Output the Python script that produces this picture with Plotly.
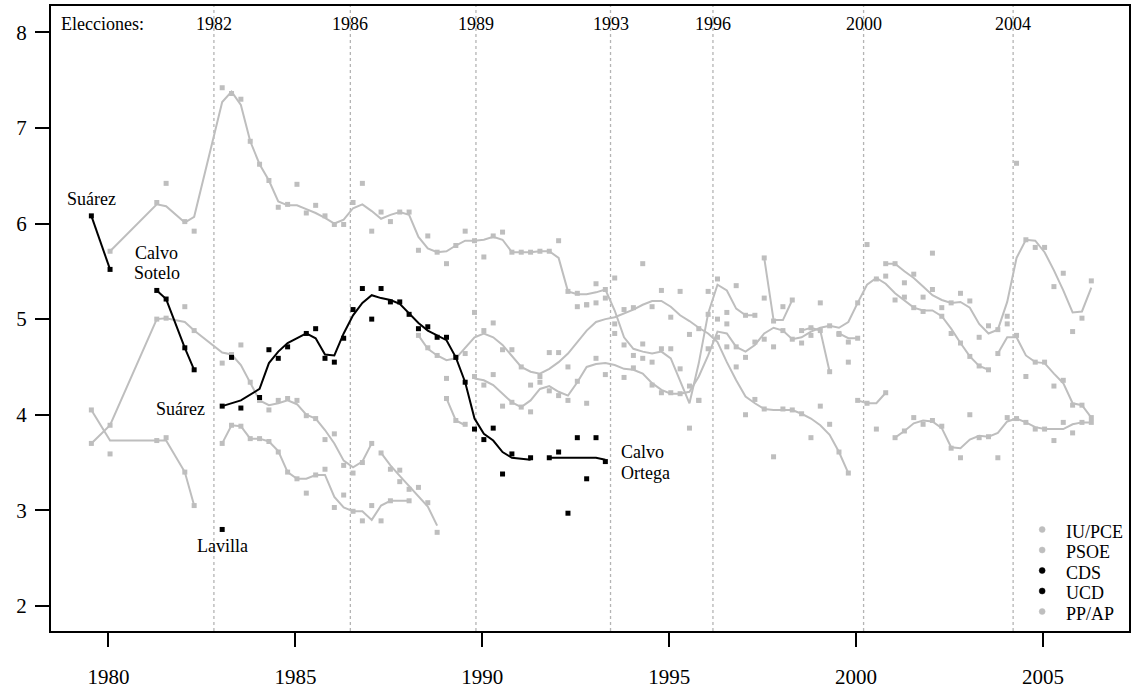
import plotly.graph_objects as go

GRAY = "#bebebe"
BLACK = "#000000"
FONT = "Liberation Serif"

# ---------------- data (quarterly survey dates, leader ratings) ----------------
# UCD
ucd_suarez_dates = ["1979-07", "1980-01"]
ucd_suarez_raw = [6.08, 5.52]
ucd_suarez_fit = [6.08, 5.52]

ucd_calvosotelo_dates = ["1981-04", "1981-07", "1982-01", "1982-04"]
ucd_calvosotelo_raw = [5.30, 5.21, 4.70, 4.47]
ucd_calvosotelo_fit = [5.30, 5.21, 4.70, 4.47]

ucd_lavilla_dates = ["1983-01"]
ucd_lavilla_raw = [2.80]
ucd_lavilla_fit = [None]

# CDS
cds_suarez_dates = ["1983-01", "1983-04", "1983-07", "1984-01", "1984-04", "1984-07", "1984-10",
                    "1985-04", "1985-07", "1985-10", "1986-01", "1986-04", "1986-07", "1986-10",
                    "1987-01", "1987-04", "1987-07", "1987-10", "1988-01", "1988-04", "1988-07",
                    "1988-10", "1989-01", "1989-04", "1989-07", "1989-10", "1990-01", "1990-04",
                    "1990-07", "1990-10", "1991-04"]
cds_suarez_raw = [4.09, 4.60, 4.07, 4.18, 4.68, 4.59, 4.71, 4.85, 4.90, 4.59, 4.55, 4.80, 5.10, 5.32,
                  5.00, 5.32, 5.18, 5.18, 5.05, 4.90, 4.92, 4.81, 4.81, 4.60, 4.34, 3.85, 3.74, 3.86,
                  3.38, 3.59, 3.55]
cds_suarez_fit = [4.09, 4.12, 4.15, 4.27, 4.54, 4.66, 4.75, 4.85, 4.80, 4.63, 4.62, 4.85, 5.04, 5.17,
                  5.25, 5.22, 5.20, 5.16, 5.06, 4.96, 4.88, 4.83, 4.78, 4.60, 4.34, 3.96, 3.80, 3.73,
                  3.61, 3.55, 3.53]

cds_calvoortega_dates = ["1991-10", "1992-01", "1992-04", "1992-07", "1992-10", "1993-01", "1993-04"]
cds_calvoortega_raw = [3.55, 3.61, 2.97, 3.76, 3.33, 3.76, 3.51]
cds_calvoortega_fit = [3.55, 3.55, 3.55, 3.55, 3.55, 3.55, 3.53]

# PSOE
psoe_gonzalez_dates = ["1980-01", "1981-04", "1981-07", "1982-01", "1982-04",
                       "1983-01", "1983-04", "1983-07", "1983-10",
                       "1984-01", "1984-04", "1984-07", "1984-10",
                       "1985-01", "1985-04", "1985-07", "1985-10",
                       "1986-01", "1986-04", "1986-07", "1986-10",
                       "1987-01", "1987-04", "1987-07", "1987-10",
                       "1988-01", "1988-04", "1988-07", "1988-10",
                       "1989-01", "1989-04", "1989-07", "1989-10",
                       "1990-01", "1990-04", "1990-07", "1990-10",
                       "1991-01", "1991-04", "1991-07", "1991-10",
                       "1992-01", "1992-04", "1992-07", "1992-10",
                       "1993-01", "1993-04", "1993-07", "1993-10",
                       "1994-01", "1994-04", "1994-07", "1994-10",
                       "1995-01", "1995-04", "1995-07", "1995-10",
                       "1996-01", "1996-04", "1996-07", "1996-10",
                       "1997-01", "1997-04", "1997-07"]
psoe_gonzalez_raw = [5.71, 6.22, 6.42, 6.02, 5.92,
                     7.42, 7.36, 7.30, 6.86,
                     6.62, 6.45, 6.17, 6.20,
                     6.41, 6.11, 6.19, 6.08,
                     5.99, 5.99, 6.22, 6.42,
                     5.92, 6.12, 6.02, 6.12,
                     6.12, 5.72, 5.87, 5.70,
                     5.58, 5.77, 5.92, 5.82,
                     5.65, 5.87, 5.91, 5.70,
                     5.70, 5.70, 5.71, 5.71,
                     5.82, 5.29, 5.27, 5.15,
                     5.37, 5.31, 5.43, 4.73,
                     4.62, 4.74, 4.55, 4.69,
                     4.69, 4.48, 3.86, 4.15,
                     5.05, 5.42, 5.07, 5.35,
                     5.04, 5.04, 5.22]
psoe_gonzalez_fit = [5.71, 6.20, 6.18, 6.01, 6.07,
                     7.27, 7.38, 7.24, 6.86,
                     6.62, 6.45, 6.23, 6.19,
                     6.19, 6.15, 6.11, 6.06,
                     6.00, 6.04, 6.16, 6.20,
                     6.13, 6.05, 6.09, 6.12,
                     6.09, 5.86, 5.74, 5.70,
                     5.71, 5.77, 5.82, 5.82,
                     5.83, 5.86, 5.83, 5.70,
                     5.70, 5.70, 5.71, 5.71,
                     5.64, 5.29, 5.26, 5.26,
                     5.28, 5.31, 5.09, 4.81,
                     4.69, 4.66, 4.64, 4.66,
                     4.59, 4.36, 4.12, 4.54,
                     5.06, 5.36, 5.30, 5.11,
                     5.04, 5.04, None]

psoe_almunia1_dates = ["1997-07", "1997-10", "1998-01", "1998-04"]
psoe_almunia1_raw = [5.64, 4.98, 5.13, 5.20]
psoe_almunia1_fit = [5.64, 4.99, 4.99, 5.20]

psoe_borrell_dates = ["1998-07", "1998-10", "1999-01", "1999-04"]
psoe_borrell_raw = [4.88, 4.83, 5.17, 4.45]
psoe_borrell_fit = [4.88, 4.91, 4.88, 4.45]

psoe_almunia2_dates = ["1999-07", "1999-10", "2000-01"]
psoe_almunia2_raw = [4.84, 4.76, 4.80]
psoe_almunia2_fit = [4.85, 4.80, 4.80]

psoe_zapatero_dates = ["2000-10", "2001-01", "2001-04", "2001-07", "2001-10",
                       "2002-01", "2002-04", "2002-07", "2002-10",
                       "2003-01", "2003-04", "2003-07", "2003-10",
                       "2004-01", "2004-04", "2004-07", "2004-10",
                       "2005-01", "2005-04", "2005-07", "2005-10",
                       "2006-01", "2006-04"]
psoe_zapatero_raw = [5.58, 5.58, 5.38, 5.47, 5.23,
                     5.69, 5.12, 5.17, 5.27,
                     5.19, 4.81, 4.93, 4.89,
                     5.03, 6.63, 5.83, 5.75,
                     5.75, 5.34, 5.48, 4.87,
                     5.01, 5.40]
psoe_zapatero_fit = [5.58, 5.58, 5.50, 5.43, 5.34,
                     5.25, 5.20, 5.17, 5.18,
                     5.12, 4.95, 4.85, 4.89,
                     5.18, 5.64, 5.83, 5.82,
                     5.70, 5.51, 5.30, 5.07,
                     5.08, 5.33]

# IU/PCE
iu_carrillo_dates = ["1979-07", "1980-01", "1981-04", "1981-07", "1982-01", "1982-04"]
iu_carrillo_raw = [4.05, 3.59, 3.73, 3.76, 3.40, 3.05]
iu_carrillo_fit = [4.05, 3.73, 3.73, 3.73, 3.40, 3.05]

iu_iglesias_dates = ["1983-01", "1983-04", "1983-07", "1983-10",
                     "1984-01", "1984-04", "1984-07", "1984-10",
                     "1985-01", "1985-04", "1985-07", "1985-10",
                     "1986-01", "1986-04", "1986-07", "1986-10",
                     "1987-01", "1987-04", "1987-07", "1987-10", "1988-01"]
iu_iglesias_raw = [3.70, 3.89, 3.88, 3.75, 3.75, 3.72, 3.61, 3.40, 3.33, 3.18, 3.37, 3.43,
                   3.03, 3.16, 2.99, 2.89, 3.05, 2.89, 3.10, 3.30, 3.10]
iu_iglesias_fit = [3.70, 3.89, 3.88, 3.75, 3.75, 3.72, 3.62, 3.40, 3.33, 3.33, 3.37, 3.37,
                   3.14, 3.03, 2.99, 2.99, 2.90, 3.05, 3.10, 3.10, 3.10]

iu_anguita_dates = ["1988-04", "1988-07", "1988-10",
                    "1989-01", "1989-04", "1989-07", "1989-10",
                    "1990-01", "1990-04", "1990-07", "1990-10",
                    "1991-01", "1991-04", "1991-07", "1991-10",
                    "1992-01", "1992-04", "1992-07", "1992-10",
                    "1993-01", "1993-04", "1993-07", "1993-10",
                    "1994-01", "1994-04", "1994-07", "1994-10",
                    "1995-01", "1995-04", "1995-07", "1995-10",
                    "1996-01", "1996-04", "1996-07", "1996-10",
                    "1997-01", "1997-04", "1997-07", "1997-10",
                    "1998-01", "1998-04", "1998-07", "1998-10",
                    "1999-01", "1999-04", "1999-07", "1999-10"]
iu_anguita_raw = [4.83, 4.70, 4.62,
                  4.38, 4.60, 4.64, 5.07,
                  4.88, 4.96, 4.68, 4.68,
                  4.50, 4.31, 4.34, 4.65,
                  4.65, 4.50, 5.13, 5.15,
                  5.17, 5.22, 4.95, 5.10,
                  5.12, 5.58, 5.13, 5.30,
                  5.02, 5.29, 4.84, 4.90,
                  5.29, 5.00, 4.71, 4.50,
                  4.00, 4.16, 4.06, 3.56,
                  4.06, 4.05, 4.01, 3.76,
                  4.09, 3.90, 3.61, 3.39]
iu_anguita_fit = [4.83, 4.69, 4.62,
                  4.57, 4.59, 4.70, 4.81,
                  4.85, 4.81, 4.73, 4.61,
                  4.50, 4.45, 4.43, 4.48,
                  4.55, 4.64, 4.76, 4.88,
                  4.97, 5.00, 5.02, 5.06,
                  5.10, 5.15, 5.19, 5.19,
                  5.13, 5.04, 4.98, 4.91,
                  4.85, 4.76, 4.55, 4.36,
                  4.19, 4.12, 4.06, 4.05,
                  4.05, 4.05, 4.01, 3.96,
                  3.89, 3.79, 3.61, 3.39]

iu_frutos_dates = ["2000-01", "2000-04", "2000-07", "2000-10"]
iu_frutos_raw = [4.15, 4.12, 3.85, 4.23]
iu_frutos_fit = [4.15, 4.12, 4.12, 4.23]

iu_llamazares_dates = ["2001-01", "2001-04", "2001-07", "2001-10",
                       "2002-01", "2002-04", "2002-07", "2002-10",
                       "2003-01", "2003-04", "2003-07", "2003-10",
                       "2004-01", "2004-04", "2004-07", "2004-10",
                       "2005-01", "2005-04", "2005-07", "2005-10",
                       "2006-01", "2006-04"]
iu_llamazares_raw = [3.76, 3.83, 3.97, 3.90, 3.94, 3.88, 3.65, 3.55, 4.00, 3.76, 3.77, 3.55,
                     3.97, 3.96, 3.92, 3.85, 3.85, 3.73, 3.92, 3.81, 3.92, 3.92]
iu_llamazares_fit = [3.76, 3.83, 3.91, 3.94, 3.93, 3.86, 3.66, 3.65, 3.74, 3.78, 3.77, 3.81,
                     3.93, 3.96, 3.92, 3.87, 3.85, 3.85, 3.85, 3.90, 3.92, 3.92]

# PP/AP
pp_fraga_dates = ["1979-07", "1980-01", "1981-04", "1981-07", "1982-01", "1982-04",
                  "1983-01", "1983-04", "1983-07", "1983-10",
                  "1984-01", "1984-04", "1984-07", "1984-10",
                  "1985-01", "1985-04", "1985-07", "1985-10",
                  "1986-01", "1986-04", "1986-07", "1986-10", "1987-01"]
pp_fraga_raw = [3.70, 3.89, 5.00, 5.01, 5.13, 4.88, 4.54, 4.63, 4.73, 4.34, 4.15, 4.05,
                4.15, 4.17, 4.15, 3.99, 3.96, 3.74, 3.80, 3.47, 3.39, 3.50, 3.70]
pp_fraga_fit = [3.70, 3.89, 5.00, 5.01, 4.97, 4.88, 4.65, 4.63, 4.52, 4.34, 4.15, 4.10,
                4.12, 4.15, 4.11, 4.00, 3.96, 3.84, 3.70, 3.52, 3.45, 3.51, 3.70]

pp_mancha_dates = ["1987-04", "1987-07", "1987-10", "1988-01", "1988-04", "1988-07", "1988-10"]
pp_mancha_raw = [3.60, 3.43, 3.42, 3.22, 3.24, 3.08, 2.77]
pp_mancha_fit = [3.60, 3.47, 3.36, 3.25, 3.14, 3.04, 2.84]

pp_fraga89_dates = ["1989-01", "1989-04", "1989-07"]
pp_fraga89_raw = [4.17, 3.94, 3.90]
pp_fraga89_fit = [4.17, 3.94, 3.89]

pp_aznar_dates = ["1989-10",
                  "1990-01", "1990-04", "1990-07", "1990-10",
                  "1991-01", "1991-04", "1991-07", "1991-10",
                  "1992-01", "1992-04", "1992-07", "1992-10",
                  "1993-01", "1993-04", "1993-07", "1993-10",
                  "1994-01", "1994-04", "1994-07", "1994-10",
                  "1995-01", "1995-04", "1995-07", "1995-10",
                  "1996-01", "1996-04", "1996-07", "1996-10",
                  "1997-01", "1997-04", "1997-07", "1997-10",
                  "1998-01", "1998-04", "1998-07", "1998-10",
                  "1999-01", "1999-04", "1999-07", "1999-10",
                  "2000-01", "2000-04", "2000-07", "2000-10",
                  "2001-01", "2001-04", "2001-07", "2001-10",
                  "2002-01", "2002-04", "2002-07", "2002-10",
                  "2003-01", "2003-04", "2003-07"]
pp_aznar_raw = [4.40,
                4.31, 4.42, 4.09, 4.13,
                4.08, 4.03, 4.40, 4.25,
                4.20, 4.15, 4.35, 4.12,
                4.59, 4.42, 4.85, 4.39,
                4.49, 4.59, 4.31, 4.23,
                4.23, 4.22, 4.30, 4.15,
                4.69, 4.81, 4.95, 4.71,
                4.60, 4.76, 4.79, 4.71,
                4.88, 4.79, 4.75, 4.91,
                4.88, 4.93, 4.85, 4.55,
                5.17, 5.78, 5.42, 5.45,
                5.20, 5.23, 5.12, 5.08,
                5.31, 5.03, 4.85, 4.75,
                4.61, 4.51, 4.47]
pp_aznar_fit = [4.38,
                4.36, 4.31, 4.22, 4.13,
                4.08, 4.15, 4.27, 4.30,
                4.24, 4.20, 4.34, 4.50,
                4.53, 4.54, 4.52, 4.48,
                4.47, 4.43, 4.33, 4.26,
                4.22, 4.22, 4.24, 4.40,
                4.62, 4.87, 4.85, 4.71,
                4.66, 4.73, 4.85, 4.91,
                4.88, 4.79, 4.81, 4.87,
                4.91, 4.93, 4.91, 4.97,
                5.17, 5.36, 5.43, 5.37,
                5.27, 5.19, 5.12, 5.09,
                5.09, 5.03, 4.90, 4.75,
                4.61, 4.51, 4.47]

pp_rajoy_dates = ["2003-10", "2004-01", "2004-04", "2004-07", "2004-10",
                  "2005-01", "2005-04", "2005-07", "2005-10", "2006-01", "2006-04"]
pp_rajoy_raw = [4.64, 4.95, 4.83, 4.40, 4.55, 4.55, 4.30, 4.36, 4.10, 4.10, 3.97]
pp_rajoy_fit = [4.64, 4.81, 4.81, 4.62, 4.55, 4.54, 4.43, 4.33, 4.12, 4.10, 3.97]

# elections
election_labels = ["1982", "1986", "1989", "1993", "1996", "2000", "2004"]
election_dates = [1982.82, 1986.47, 1989.83, 1993.43, 1996.17, 2000.20, 2004.20]

# legend
legend_labels = ["IU/PCE", "PSOE", "CDS", "UCD", "PP/AP"]
legend_colors = [GRAY, GRAY, BLACK, BLACK, GRAY]

x_ticks = [1980, 1985, 1990, 1995, 2000, 2005]
y_ticks = [2, 3, 4, 5, 6, 7, 8]

# ---------------- build ----------------
def yr(s):
    y, m = s.split("-")
    return int(y) + (int(m) - 0.5) / 12.0

gray_segments = [
    (iu_carrillo_dates, iu_carrillo_raw, iu_carrillo_fit),
    (iu_iglesias_dates, iu_iglesias_raw, iu_iglesias_fit),
    (iu_anguita_dates, iu_anguita_raw, iu_anguita_fit),
    (iu_frutos_dates, iu_frutos_raw, iu_frutos_fit),
    (iu_llamazares_dates, iu_llamazares_raw, iu_llamazares_fit),
    (psoe_gonzalez_dates, psoe_gonzalez_raw, psoe_gonzalez_fit),
    (psoe_almunia1_dates, psoe_almunia1_raw, psoe_almunia1_fit),
    (psoe_borrell_dates, psoe_borrell_raw, psoe_borrell_fit),
    (psoe_almunia2_dates, psoe_almunia2_raw, psoe_almunia2_fit),
    (psoe_zapatero_dates, psoe_zapatero_raw, psoe_zapatero_fit),
    (pp_fraga_dates, pp_fraga_raw, pp_fraga_fit),
    (pp_mancha_dates, pp_mancha_raw, pp_mancha_fit),
    (pp_fraga89_dates, pp_fraga89_raw, pp_fraga89_fit),
    (pp_aznar_dates, pp_aznar_raw, pp_aznar_fit),
    (pp_rajoy_dates, pp_rajoy_raw, pp_rajoy_fit),
]
black_segments = [
    (ucd_suarez_dates, ucd_suarez_raw, ucd_suarez_fit),
    (ucd_calvosotelo_dates, ucd_calvosotelo_raw, ucd_calvosotelo_fit),
    (ucd_lavilla_dates, ucd_lavilla_raw, ucd_lavilla_fit),
    (cds_suarez_dates, cds_suarez_raw, cds_suarez_fit),
    (cds_calvoortega_dates, cds_calvoortega_raw, cds_calvoortega_fit),
]

fig = go.Figure()

def add_segment(dates, raw, fit, color):
    xs = [yr(d) for d in dates]
    if any(v is not None for v in fit):
        fig.add_trace(go.Scatter(x=xs, y=fit, mode="lines", connectgaps=False,
                                 line=dict(color=color, width=2), hoverinfo="skip",
                                 showlegend=False))
    fig.add_trace(go.Scatter(x=xs, y=raw, mode="markers",
                             marker=dict(symbol="square", size=5, color=color,
                                         line=dict(width=0)),
                             hoverinfo="skip", showlegend=False))

for seg in gray_segments:
    add_segment(*seg, GRAY)
for seg in black_segments:
    add_segment(*seg, BLACK)

W, H = 1132, 692
ML, MR, MT, MB = 51, 1, 6, 61
PW, PH = W - ML - MR, H - MT - MB

def px2paper(px, py):
    return (px - ML) / PW, (H - MB - py) / PH

shapes = []
for d in election_dates:
    shapes.append(dict(type="line", xref="x", yref="paper", x0=d, x1=d, y0=0, y1=1,
                       line=dict(color="#b4b4b4", width=1.3, dash="dot"), layer="below"))

annotations = []
for lab, d in zip(election_labels, election_dates):
    annotations.append(dict(x=d, y=8.087, xref="x", yref="y", text=lab, showarrow=False,
                            xanchor="center", yanchor="middle",
                            font=dict(family=FONT, size=18, color="black")))
annotations.append(dict(x=1978.68, y=8.087, xref="x", yref="y", text="Elecciones:",
                        showarrow=False, xanchor="left", yanchor="middle",
                        font=dict(family=FONT, size=18, color="black")))

label_specs = [
    ("Suárez", 1979.557, 6.256, "center"),
    ("Calvo", 1981.29, 5.696, "center"),
    ("Sotelo", 1981.29, 5.487, "center"),
    ("Suárez", 1982.63, 4.06, "right"),
    ("Lavilla", 1983.04, 2.63, "center"),
    ("Calvo", 1993.66, 3.614, "left"),
    ("Ortega", 1993.66, 3.394, "left"),
]
for t, x, y, xa in label_specs:
    annotations.append(dict(x=x, y=y, xref="x", yref="y", text=t, showarrow=False,
                            xanchor=xa, yanchor="middle",
                            font=dict(family=FONT, size=18, color="black")))

# custom legend
leg_y = [531.5, 552, 572.5, 593, 613.5]
for lab, col, py in zip(legend_labels, legend_colors, leg_y):
    cx, cy = px2paper(1044, py - 2)
    rx, ry = 3.0 / PW, 3.0 / PH
    shapes.append(dict(type="circle", xref="paper", yref="paper",
                       x0=cx - rx, x1=cx + rx, y0=cy - ry, y1=cy + ry,
                       fillcolor=col, line=dict(color=col, width=0.5)))
    tx, ty = px2paper(1066, py)
    annotations.append(dict(x=tx, y=ty, xref="paper", yref="paper", text=lab,
                            showarrow=False, xanchor="left", yanchor="middle",
                            font=dict(family=FONT, size=18, color="black")))

axis_common = dict(showline=True, linewidth=2, linecolor="black", mirror=True,
                   showgrid=False, zeroline=False, ticks="outside", ticklen=14,
                   tickwidth=1.5, tickcolor="black",
                   tickfont=dict(family=FONT, size=21, color="black"))

fig.update_layout(
    width=W, height=H,
    margin=dict(l=ML, r=MR, t=MT, b=MB, pad=0),
    paper_bgcolor="white", plot_bgcolor="white",
    showlegend=False,
    xaxis=dict(range=[1978.462, 2007.30], tickvals=x_ticks,
               ticktext=[str(v) for v in x_ticks], ticklabelstandoff=12, **axis_common),
    yaxis=dict(range=[1.738, 8.275], tickvals=y_ticks,
               ticktext=[str(v) for v in y_ticks], ticklabelstandoff=4, **axis_common),
    shapes=shapes,
    annotations=annotations,
    font=dict(family=FONT, color="black"),
)

fig.write_html("out.html",
               config={"displayModeBar": False},
               post_script="document.body.style.margin='0px';"
                           "document.body.style.overflow='hidden';")
